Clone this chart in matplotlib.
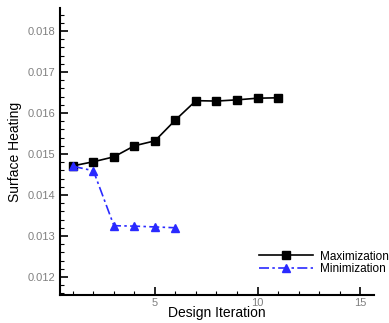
import matplotlib
matplotlib.use('Agg')
import matplotlib.pyplot as plt
from matplotlib.ticker import MultipleLocator

plt.rcParams['font.family'] = ['Liberation Sans', 'DejaVu Sans']

# Data
max_iter = [1, 2, 3, 4, 5, 6, 7, 8, 9, 10, 11]
max_heat = [0.01471, 0.01481, 0.01493, 0.01520, 0.01532, 0.01583,
            0.01630, 0.01629, 0.01632, 0.01636, 0.01637]
min_iter = [1, 2, 3, 4, 5, 6]
min_heat = [0.01470, 0.01459, 0.01325, 0.01324, 0.01322, 0.01320]

fig = plt.figure(figsize=(3.89, 3.23), dpi=100)
ax = fig.add_axes([60 / 389, 28 / 323, 314 / 389, 287 / 323])

ax.plot(max_iter, max_heat, color='black', marker='s', markersize=6,
        linewidth=1.2, label='Maximization')
ax.plot(min_iter, min_heat, color='#2a2aff', marker='^', markersize=6,
        linewidth=1.2, linestyle=(0, (6, 2, 1.5, 2)), label='Minimization')

ax.set_xlim(0.37, 15.68)
ax.set_ylim(0.01156, 0.01856)
ax.xaxis.set_major_locator(MultipleLocator(5))
ax.xaxis.set_minor_locator(MultipleLocator(1))
ax.yaxis.set_major_locator(MultipleLocator(0.001))
ax.yaxis.set_minor_locator(MultipleLocator(0.0002))
ax.yaxis.set_major_formatter(plt.FormatStrFormatter('%.3f'))

for side in ['top', 'right']:
    ax.spines[side].set_visible(False)
for side in ['left', 'bottom']:
    ax.spines[side].set_linewidth(1.5)

ax.tick_params(which='both', direction='in', colors='black',
               labelcolor='#808080', labelsize=8)
ax.tick_params(which='major', length=6, width=1.2)
ax.tick_params(which='minor', length=3, width=0.8)
ax.tick_params(axis='x', which='major', pad=2)

ax.set_xlabel('Design Iteration', fontsize=10, labelpad=-1)
ax.set_ylabel('Surface Heating', fontsize=10, labelpad=4)

ax.legend(loc='lower right', bbox_to_anchor=(1.08, 0.032), frameon=False,
          fontsize=8.5, handlelength=4.5, handletextpad=0.6,
          labelspacing=0.05)

fig.savefig('out.png', dpi=100)
